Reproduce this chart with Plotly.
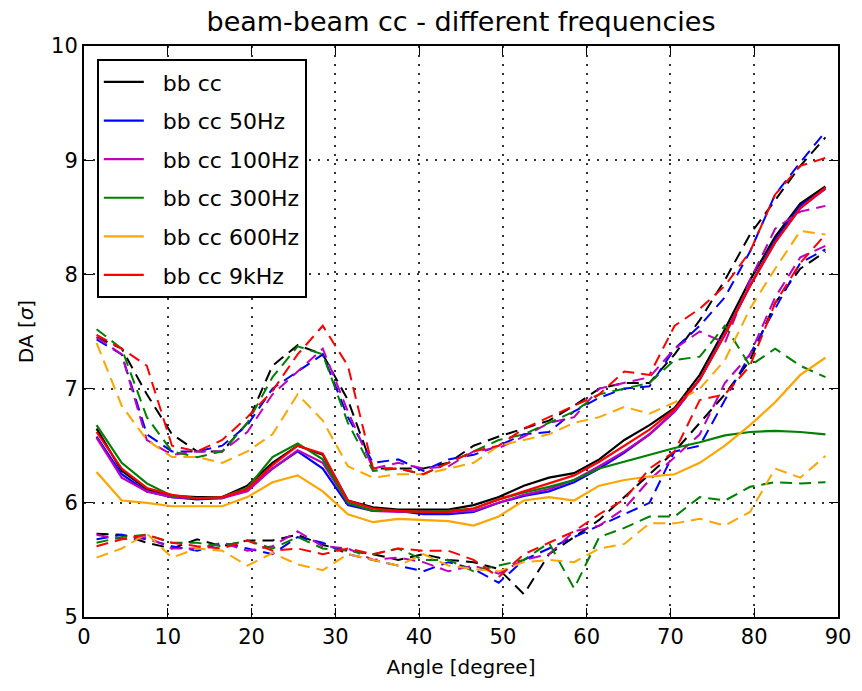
import plotly.graph_objects as go

angles = [1.5, 4.5, 7.5, 10.5, 13.5, 16.5, 19.5, 22.5, 25.5, 28.5,
          31.5, 34.5, 37.5, 40.5, 43.5, 46.5, 49.5, 52.5, 55.5, 58.5,
          61.5, 64.5, 67.5, 70.5, 73.5, 76.5, 79.5, 82.5, 85.5, 88.5]

series_names = ["bb cc", "bb cc 50Hz", "bb cc 100Hz", "bb cc 300Hz", "bb cc 600Hz", "bb cc 9kHz"]
series_colors = ["#000000", "#0000ff", "#bf00bf", "#008000", "#ffa500", "#ff0000"]

mean_bb = [6.65, 6.28, 6.12, 6.06, 6.05, 6.05, 6.15, 6.35, 6.50, 6.42,
           6.02, 5.96, 5.94, 5.94, 5.94, 5.98, 6.05, 6.15, 6.22, 6.26,
           6.38, 6.55, 6.68, 6.83, 7.12, 7.52, 7.95, 8.33, 8.62, 8.77]
mean_50 = [6.58, 6.25, 6.10, 6.05, 6.03, 6.04, 6.12, 6.30, 6.45, 6.30,
           5.98, 5.93, 5.93, 5.90, 5.90, 5.92, 6.00, 6.06, 6.10, 6.18,
           6.30, 6.44, 6.60, 6.80, 7.08, 7.48, 7.90, 8.30, 8.60, 8.75]
mean_100 = [6.57, 6.22, 6.10, 6.05, 6.04, 6.04, 6.10, 6.30, 6.46, 6.35,
            6.00, 5.93, 5.92, 5.92, 5.92, 5.93, 6.00, 6.07, 6.12, 6.20,
            6.32, 6.45, 6.60, 6.80, 7.08, 7.48, 7.90, 8.28, 8.58, 8.75]
mean_300 = [6.68, 6.35, 6.17, 6.06, 6.04, 6.05, 6.13, 6.40, 6.52, 6.38,
            6.00, 5.93, 5.93, 5.92, 5.93, 5.95, 6.03, 6.09, 6.14, 6.20,
            6.30, 6.36, 6.42, 6.48, 6.53, 6.59, 6.62, 6.63, 6.62, 6.60]
mean_600 = [6.27, 6.02, 6.00, 5.97, 5.97, 5.97, 6.05, 6.18, 6.24, 6.10,
            5.90, 5.83, 5.86, 5.85, 5.84, 5.80, 5.88, 6.02, 6.05, 6.02,
            6.15, 6.20, 6.23, 6.25, 6.35, 6.50, 6.68, 6.88, 7.12, 7.27]
mean_9k = [6.62, 6.30, 6.13, 6.07, 6.04, 6.05, 6.12, 6.33, 6.50, 6.43,
           6.02, 5.95, 5.93, 5.92, 5.92, 5.95, 6.03, 6.10, 6.17, 6.24,
           6.36, 6.50, 6.64, 6.82, 7.08, 7.47, 7.90, 8.28, 8.58, 8.76]

max_bb = [7.45, 7.35, 6.95, 6.60, 6.45, 6.45, 6.70, 7.20, 7.38, 7.30,
          6.90, 6.30, 6.30, 6.30, 6.35, 6.50, 6.58, 6.65, 6.72, 6.85,
          7.00, 7.05, 7.05, 7.30, 7.60, 7.95, 8.35, 8.65, 8.95, 9.20]
max_50 = [7.43, 7.30, 6.60, 6.45, 6.45, 6.50, 6.68, 7.00, 7.15, 7.30,
          6.75, 6.35, 6.38, 6.28, 6.38, 6.42, 6.50, 6.60, 6.62, 6.80,
          6.92, 7.00, 7.02, 7.35, 7.55, 7.80, 8.20, 8.70, 8.98, 9.25]
max_100 = [7.45, 7.30, 6.55, 6.42, 6.45, 6.45, 6.62, 6.95, 7.15, 7.35,
           6.80, 6.30, 6.35, 6.30, 6.32, 6.45, 6.48, 6.58, 6.70, 6.75,
           7.00, 7.05, 7.10, 7.35, 7.50, 7.40, 7.95, 8.40, 8.55, 8.60]
max_300 = [7.52, 7.35, 6.75, 6.45, 6.40, 6.45, 6.70, 7.10, 7.37, 7.30,
           6.70, 6.28, 6.30, 6.25, 6.35, 6.45, 6.55, 6.60, 6.70, 6.80,
           6.95, 7.00, 7.05, 7.25, 7.28, 7.55, 7.20, 7.35, 7.20, 7.10]
max_600 = [7.40, 6.85, 6.55, 6.40, 6.40, 6.35, 6.45, 6.60, 6.95, 6.72,
           6.32, 6.22, 6.25, 6.25, 6.30, 6.35, 6.50, 6.55, 6.60, 6.70,
           6.75, 6.84, 6.78, 6.88, 7.00, 7.25, 7.70, 8.05, 8.38, 8.35]
max_9k = [7.47, 7.35, 7.20, 6.50, 6.45, 6.55, 6.75, 6.98, 7.30, 7.55,
          7.20, 6.30, 6.30, 6.25, 6.35, 6.45, 6.50, 6.65, 6.75, 6.85,
          6.95, 7.15, 7.12, 7.55, 7.70, 7.90, 8.20, 8.70, 8.95, 9.02]

min_bb = [5.73, 5.72, 5.65, 5.60, 5.68, 5.62, 5.67, 5.67, 5.72, 5.63,
          5.58, 5.55, 5.50, 5.55, 5.50, 5.48, 5.42, 5.20, 5.55, 5.70,
          5.85, 6.05, 6.25, 6.45, 6.70, 6.95, 7.25, 7.75, 8.05, 8.20]
min_50 = [5.68, 5.72, 5.68, 5.62, 5.58, 5.65, 5.60, 5.55, 5.70, 5.65,
          5.55, 5.50, 5.45, 5.40, 5.48, 5.42, 5.30, 5.50, 5.60, 5.70,
          5.80, 5.90, 6.00, 6.45, 6.50, 6.90, 7.30, 7.70, 8.10, 8.22]
min_100 = [5.72, 5.68, 5.70, 5.60, 5.60, 5.65, 5.58, 5.62, 5.75, 5.62,
           5.60, 5.50, 5.52, 5.48, 5.40, 5.45, 5.38, 5.50, 5.55, 5.75,
           5.80, 5.95, 6.20, 6.40, 6.60, 7.05, 7.30, 7.80, 8.15, 8.25]
min_300 = [5.65, 5.70, 5.72, 5.65, 5.65, 5.62, 5.67, 5.60, 5.70, 5.60,
           5.58, 5.55, 5.60, 5.50, 5.50, 5.40, 5.45, 5.50, 5.65, 5.25,
           5.70, 5.78, 5.88, 5.88, 6.05, 6.02, 6.14, 6.18, 6.17, 6.18]
min_600 = [5.52, 5.60, 5.73, 5.52, 5.60, 5.58, 5.45, 5.56, 5.46, 5.41,
           5.55, 5.50, 5.45, 5.55, 5.45, 5.42, 5.40, 5.48, 5.50, 5.48,
           5.60, 5.64, 5.82, 5.82, 5.86, 5.80, 5.92, 6.30, 6.22, 6.41]
min_9k = [5.62, 5.68, 5.72, 5.65, 5.62, 5.60, 5.67, 5.58, 5.60, 5.55,
          5.60, 5.55, 5.60, 5.58, 5.58, 5.50, 5.35, 5.55, 5.65, 5.75,
          5.90, 6.03, 6.30, 6.45, 6.90, 6.95, 7.20, 7.75, 8.10, 8.35]

x_ticks = [0, 10, 20, 30, 40, 50, 60, 70, 80, 90]
y_ticks = [5, 6, 7, 8, 9, 10]

means = [mean_bb, mean_50, mean_100, mean_300, mean_600, mean_9k]
maxs = [max_bb, max_50, max_100, max_300, max_600, max_9k]
mins = [min_bb, min_50, min_100, min_300, min_600, min_9k]

FONT = "DejaVu Sans"
fig = go.Figure()
for i, name in enumerate(series_names):
    c = series_colors[i]
    g = "g%d" % i
    fig.add_trace(go.Scatter(x=angles, y=means[i], mode="lines", name="\u00a0\u00a0" + name,
                             legendgroup=g, line=dict(color=c, width=2.2)))
    fig.add_trace(go.Scatter(x=angles, y=maxs[i], mode="lines", showlegend=False,
                             legendgroup=g, line=dict(color=c, width=2, dash="12px,7px")))
    fig.add_trace(go.Scatter(x=angles, y=mins[i], mode="lines", showlegend=False,
                             legendgroup=g, line=dict(color=c, width=2, dash="12px,7px")))

axis_common = dict(
    showline=True, linecolor="black", linewidth=2, mirror="ticks",
    ticks="inside", ticklen=9, tickwidth=1.2, tickcolor="black",
    showgrid=True, gridcolor="rgba(0,0,0,0.8)", gridwidth=1.6, griddash="2px,7px",
    zeroline=False, tickfont=dict(family=FONT, size=21, color="black"),
    ticklabeloverflow="allow",
)

fig.update_layout(
    width=862, height=691,
    margin=dict(l=84, r=11, t=46, b=74),
    paper_bgcolor="white", plot_bgcolor="white",
    font=dict(family=FONT, color="black"),
    title=dict(text="beam-beam cc - different frequencies", x=0.5, xref="paper",
               y=1 - 22 / 691, yref="container", yanchor="middle", xanchor="center",
               font=dict(family=FONT, size=27, color="black")),
    xaxis=dict(range=[0, 90], tickvals=x_ticks, ticktext=[str(v) for v in x_ticks],
               title=dict(text="Angle [degree]", font=dict(family=FONT, size=20), standoff=12),
               **axis_common),
    yaxis=dict(range=[5, 10], tickvals=y_ticks, ticktext=[str(v) for v in y_ticks],
               title=dict(text="DA [<i>σ</i>]", font=dict(family=FONT, size=20), standoff=12),
               **axis_common),
    legend=dict(x=0.017, y=0.977, xanchor="left", yanchor="top",
                bgcolor="white", bordercolor="black", borderwidth=2,
                font=dict(family=FONT, size=22, color="black"),
                tracegroupgap=7, itemwidth=40),
)

fig.write_html("out.html")
